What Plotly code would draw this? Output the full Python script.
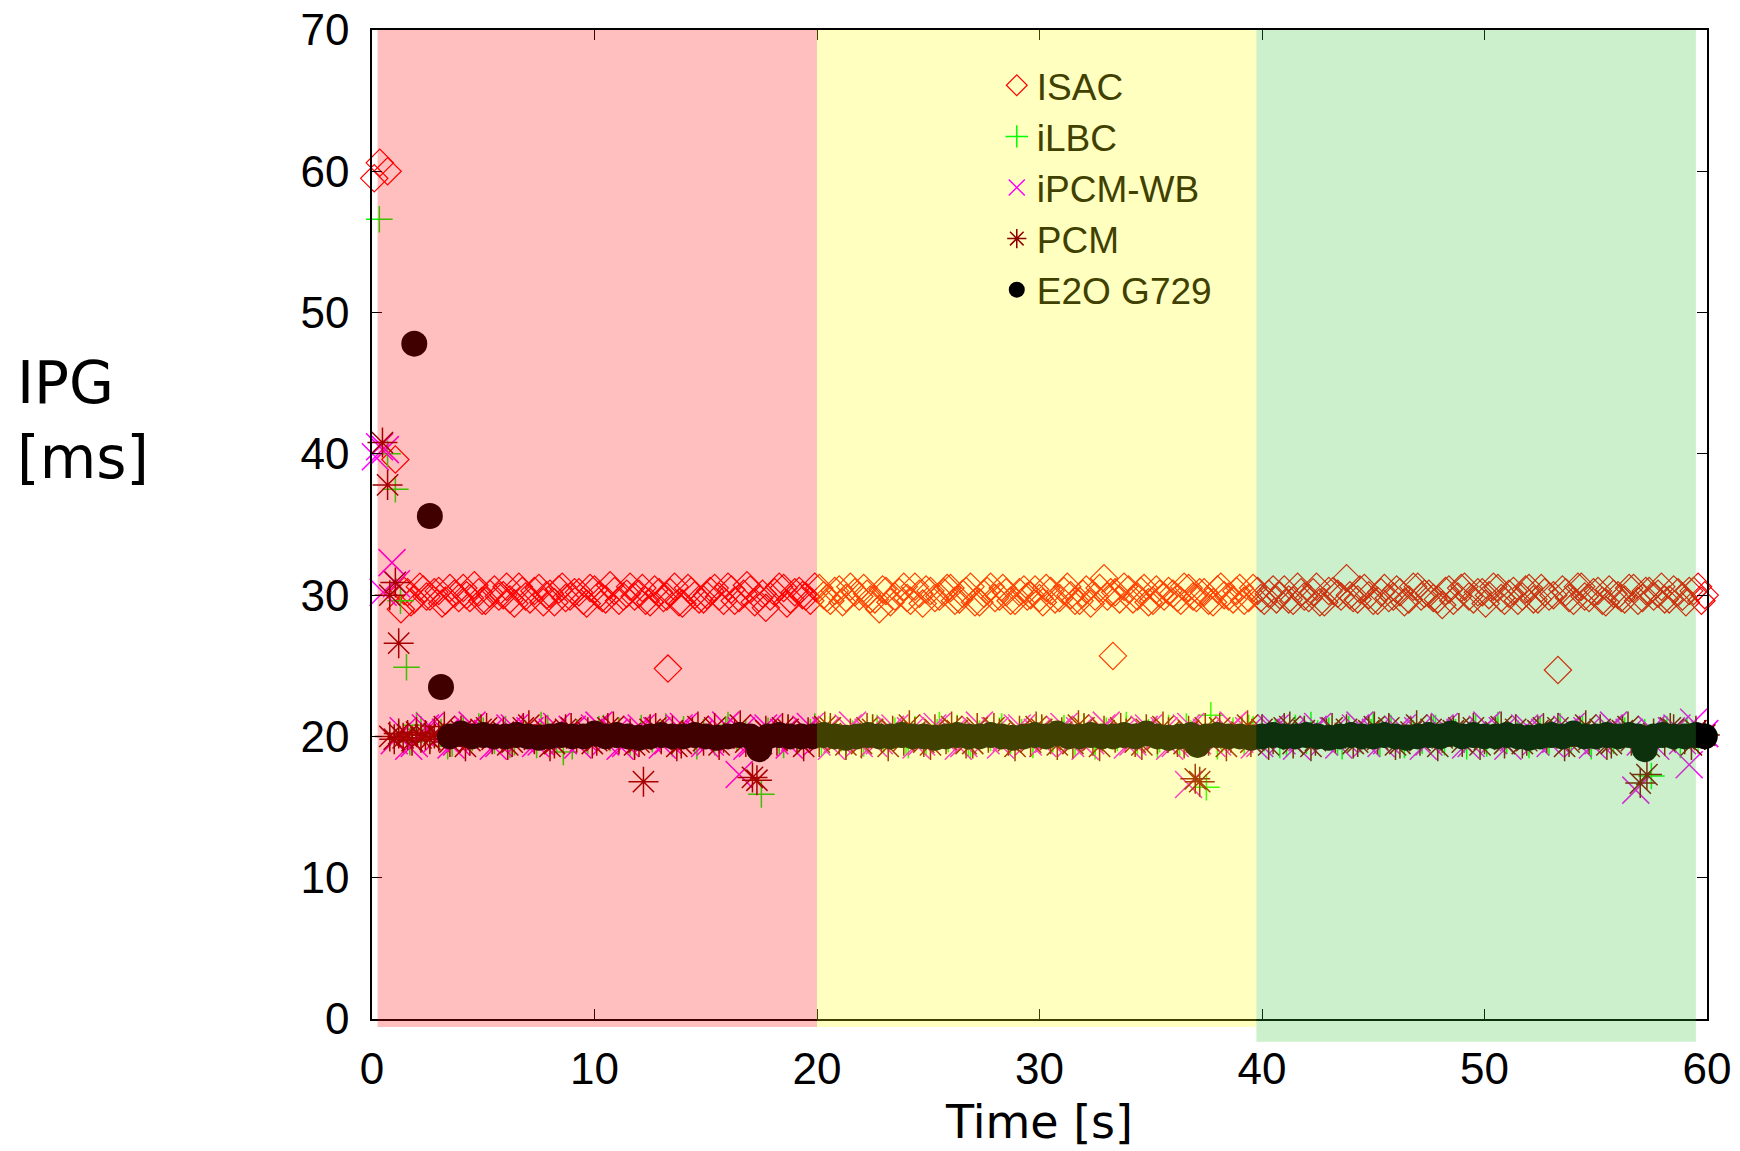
import plotly.graph_objects as go

# ---------------- data ----------------
ISAC_TIME = [
    0.1, 0.35, 0.7, 1.05,
    1.3, 1.6, 1.9, 2.3, 2.6, 3.0, 3.3, 3.7, 4.1, 4.4,
    4.8, 5.1, 5.5, 5.9, 6.2, 6.6, 6.9, 7.3, 7.7, 8.0,
    8.4, 8.7, 9.1, 9.5, 9.8, 10.2, 10.5, 10.9, 11.3, 11.6,
    12.0, 12.3, 12.7, 13.1, 13.3, 13.4, 13.8, 14.2, 14.5, 14.9,
    15.2, 15.6, 16.0, 16.3, 16.7, 17.0, 17.4, 17.7, 18.1, 18.5,
    18.8, 19.2, 19.5, 19.9, 20.3, 20.6, 21.0, 21.3, 21.7, 22.1,
    22.4, 22.8, 23.1, 23.5, 23.9, 24.2, 24.6, 24.9, 25.3, 25.7,
    26.0, 26.4, 26.7, 27.1, 27.5, 27.8, 28.2, 28.5, 28.9, 29.3,
    29.6, 30.0, 30.3, 30.7, 31.1, 31.4, 31.8, 32.1, 32.5, 32.9,
    33.2, 33.3, 33.6, 34.0, 34.4, 34.7, 35.1, 35.4, 35.8, 36.2,
    36.5, 36.9, 37.2, 37.6, 38.0, 38.3, 38.7, 39.0, 39.4, 39.8,
    40.1, 40.5, 40.8, 41.2, 41.6, 41.9, 42.3, 42.6, 43.0, 43.4,
    43.8, 44.1, 44.4, 44.8, 45.2, 45.5, 45.9, 46.2, 46.6, 47.0,
    47.3, 47.7, 48.1, 48.4, 48.8, 49.1, 49.5, 49.9, 50.2, 50.6,
    50.9, 51.3, 51.7, 52.0, 52.4, 52.7, 53.1, 53.3, 53.5, 53.8,
    54.2, 54.5, 54.9, 55.3, 55.6, 56.0, 56.3, 56.7, 57.1, 57.4,
    57.8, 58.1, 58.5, 58.9, 59.2, 59.6, 59.9,
    1.45, 1.75, 2.15, 2.45, 2.8, 3.15, 3.5, 3.9, 4.25, 4.6,
    4.95, 5.3, 5.7, 6.05, 6.4, 6.75, 7.1, 7.5, 7.85, 8.2,
    8.55, 8.9, 9.3, 9.65, 10.0, 10.35, 10.7, 11.1, 11.45, 11.8,
    12.15, 12.5, 12.9, 13.25, 13.6, 13.95, 14.35, 14.7, 15.05, 15.4,
    15.8, 16.15, 16.5, 16.85, 17.2, 17.55, 17.9, 18.3, 18.65, 19.0,
    19.35, 19.7, 20.1, 20.45, 20.8, 21.15, 21.5, 21.9, 22.25, 22.6,
    22.95, 23.3, 23.7, 24.05, 24.4, 24.75, 25.1, 25.5, 25.85, 26.2,
    26.55, 26.9, 27.3, 27.65, 28.0, 28.35, 28.7, 29.1, 29.45, 29.8,
    30.15, 30.5, 30.9, 31.25, 31.6, 31.95, 32.3, 32.7, 33.05, 33.4,
    33.8, 34.2, 34.55, 34.9, 35.25, 35.6, 36.0, 36.35, 36.7, 37.05,
    37.4, 37.8, 38.15, 38.5, 38.85, 39.2, 39.6, 39.95, 40.3, 40.65,
    41.0, 41.4, 41.75, 42.1, 42.45, 42.8, 43.2, 43.55, 43.95, 44.3,
    44.6, 45.0, 45.35, 45.7, 46.05, 46.4, 46.8, 47.15, 47.5, 47.9,
    48.25, 48.6, 48.95, 49.3, 49.7, 50.05, 50.4, 50.75, 51.1, 51.5,
    51.85, 52.2, 52.55, 52.9, 53.65, 54.0, 54.35, 54.7, 55.1, 55.45,
    55.8, 56.15, 56.5, 56.9, 57.25, 57.6, 57.95, 58.3, 58.7, 59.05,
    59.4, 59.75,
]
ISAC_IPG = [
    59.5, 60.6, 60.0, 39.6,
    29.0, 30.2, 29.7, 30.4, 29.9, 30.3, 29.6, 30.1, 30.5, 29.8,
    30.2, 29.6, 30.4, 30.0, 29.7, 30.6, 29.9, 30.3, 29.5, 30.1,
    30.4, 29.8, 30.2, 29.6, 30.5, 30.0, 29.7, 30.3, 29.9, 30.6,
    30.1, 29.6, 30.4, 29.8, 24.8, 30.2, 29.5, 30.5, 30.0, 29.7,
    30.3, 29.9, 30.6, 29.6, 30.1, 30.4, 29.8, 29.1, 30.2, 30.5,
    29.7, 30.3, 29.9, 30.6, 30.0, 29.6, 30.4, 29.8, 30.2, 30.5,
    29.7, 29.0, 30.3, 29.9, 30.6, 29.6, 30.1, 30.4, 29.8, 30.2,
    30.5, 29.7, 30.3, 29.5, 30.1, 30.6, 29.9, 30.2, 29.6, 30.4,
    30.0, 29.8, 30.5, 29.7, 30.3, 30.0, 29.6, 30.4, 29.9, 31.2,
    30.2, 25.7, 29.7, 30.4, 29.9, 30.5, 29.6, 30.1, 30.3, 29.8,
    30.6, 29.9, 30.2, 29.6, 30.4, 30.0, 29.7, 30.5, 29.8, 30.3,
    29.6, 30.4, 30.0, 29.7, 30.6, 29.9, 30.2, 29.5, 30.3, 30.1,
    31.2, 29.8, 30.4, 30.0, 29.6, 30.5, 29.9, 30.2, 29.7, 30.6,
    30.1, 29.8, 29.3, 30.4, 29.9, 30.6, 29.7, 30.2, 30.0, 30.5,
    29.6, 30.3, 29.9, 30.5, 29.7, 30.2, 30.0, 24.7, 30.4, 29.8,
    30.6, 29.9, 30.2, 29.6, 30.4, 30.0, 29.7, 30.5, 29.8, 30.3,
    30.1, 29.7, 30.4, 29.9, 30.3, 30.6, 30.0,
    30.3, 29.5, 30.6, 29.9, 30.2, 29.4, 30.5, 29.8, 30.0, 30.7,
    29.6, 30.1, 29.9, 30.6, 29.4, 30.3, 29.7, 30.5, 30.0, 29.5,
    30.6, 29.9, 30.2, 29.4, 30.4, 29.8, 30.7, 29.6, 30.1, 29.9,
    30.5, 29.5, 30.2, 29.9, 30.6, 29.4, 30.3, 29.7, 30.0, 30.5,
    29.6, 30.4, 29.8, 30.7, 29.5, 30.1, 29.9, 30.6, 29.4, 30.2,
    30.0, 29.6, 30.5, 29.8, 30.3, 29.5, 30.6, 29.9, 30.1, 29.7,
    30.4, 29.5, 30.2, 29.8, 30.6, 29.4, 30.3, 29.9, 30.5, 29.6,
    30.1, 30.6, 29.5, 30.3, 29.8, 30.5, 29.6, 30.2, 29.9, 30.4,
    29.5, 30.3, 29.8, 30.6, 29.6, 30.1, 29.4, 30.5, 29.9, 30.2,
    30.6, 29.7, 30.3, 29.5, 30.4, 29.9, 30.1, 29.6, 30.5, 29.8,
    30.2, 29.5, 30.6, 29.9, 30.3, 29.6, 30.5, 29.8, 30.1, 29.7,
    30.4, 29.6, 30.2, 29.8, 30.6, 29.5, 30.3, 29.9, 30.0, 29.7,
    30.5, 29.6, 30.2, 29.8, 30.4, 29.5, 30.6, 29.9, 30.1, 29.7,
    30.3, 29.6, 30.5, 29.9, 30.2, 29.4, 30.6, 29.8, 30.1, 29.6,
    30.4, 29.7, 30.5, 29.9, 30.2, 29.6, 30.6, 29.8, 30.3, 29.5,
    30.1, 29.8, 30.5, 29.6, 30.3, 29.9, 30.6, 29.7, 30.2, 29.5,
    30.3, 29.6,
]

ILBC_TIME = [
    0.33, 0.7, 1.05, 1.28, 1.55,
    1.2, 1.7, 2.2, 2.6, 3.1, 3.6, 4.1, 4.5, 5.0, 5.5,
    6.0, 6.4, 6.9, 7.4, 7.9, 8.3, 8.6, 9.2, 9.7, 10.2,
    10.7, 11.1, 11.6, 12.1, 12.6, 13.0, 13.5, 14.0, 14.5, 14.9,
    15.4, 15.9, 16.4, 16.8, 17.3, 17.5, 17.8, 18.3, 18.7, 19.2,
    19.7, 20.2, 20.6, 21.1, 21.6, 22.1, 22.5, 23.0, 23.5, 24.0,
    24.4, 24.9, 25.4, 25.9, 26.3, 26.8, 27.3, 27.8, 28.2, 28.7,
    29.2, 29.7, 30.1, 30.6, 31.1, 31.6, 32.0, 32.5, 33.0, 33.5,
    33.9, 34.4, 34.9, 35.4, 35.8, 36.3, 36.8, 37.3, 37.5, 37.7,
    38.2, 38.7, 39.2, 39.6, 40.1, 40.6, 41.1, 41.5, 42.0, 42.5,
    43.0, 43.4, 43.9, 44.4, 44.9, 45.3, 45.8, 46.3, 46.8, 47.2,
    47.7, 48.2, 48.7, 49.1, 49.6, 50.1, 50.6, 51.0, 51.5, 52.0,
    52.5, 52.9, 53.4, 53.9, 54.4, 54.8, 55.3, 55.8, 56.3, 56.7,
    57.2, 57.5, 57.7, 58.2, 58.6, 59.1, 59.6, 59.9,
    2.0, 3.4, 4.8, 6.2, 7.6, 9.0, 10.4, 11.8, 13.2, 14.6,
    16.0, 18.5, 19.9, 21.3, 22.7, 24.1, 25.5, 26.9, 28.3, 29.7,
    31.1, 32.5, 33.9, 35.3, 36.6, 38.0, 39.4, 40.8, 42.2, 43.6,
    45.0, 46.4, 47.8, 49.2, 50.6, 52.0, 53.4, 54.8, 56.2, 58.8,
]
ILBC_IPG = [
    56.6, 40.0, 37.5, 29.6, 24.9,
    20.2, 19.6, 20.5, 19.8, 20.3, 19.5, 20.6, 19.9, 20.4, 19.7,
    20.5, 19.6, 20.2, 19.4, 20.6, 19.8, 18.9, 20.3, 19.7, 20.5,
    19.9, 20.4, 19.6, 20.6, 19.8, 20.2, 19.5, 20.5, 19.7, 20.3,
    19.6, 20.5, 19.9, 20.3, 19.5, 15.9, 20.4, 19.7, 20.6, 19.8,
    20.3, 19.6, 20.5, 19.9, 20.2, 19.5, 20.6, 19.8, 20.4, 19.7,
    20.5, 19.6, 20.3, 19.8, 20.6, 19.5, 20.2, 19.9, 20.4, 19.7,
    20.3, 19.6, 20.5, 19.8, 20.2, 19.5, 20.6, 19.7, 20.4, 19.9,
    20.5, 19.6, 20.3, 19.8, 20.6, 19.5, 20.2, 19.7, 16.4, 21.5,
    19.8, 20.4, 19.6, 20.5, 19.9, 20.3, 19.5, 20.6, 19.7, 20.2,
    20.4, 19.6, 20.5, 19.8, 20.3, 19.5, 20.6, 19.9, 20.2, 19.7,
    20.5, 19.6, 20.3, 19.8, 20.6, 19.5, 20.4, 19.7, 20.2, 19.9,
    20.5, 19.6, 20.3, 19.8, 20.6, 19.5, 20.2, 19.7, 20.4, 19.9,
    20.3, 17.2, 19.6, 20.5, 19.8, 20.4, 19.7, 20.2,
    20.8, 19.3, 20.7, 19.4, 20.8, 19.3, 20.6, 19.4, 20.7, 19.3,
    20.8, 19.4, 20.7, 19.3, 20.6, 19.4, 20.8, 19.3, 20.7, 19.4,
    20.6, 19.3, 20.8, 19.4, 20.7, 19.3, 20.6, 19.4, 20.8, 19.3,
    20.7, 19.4, 20.6, 19.3, 20.8, 19.4, 20.7, 19.3, 20.6, 19.4,
]

IPCM_TIME = [
    0.15, 0.34, 0.6, 0.5, 0.9, 1.1,
    1.0, 1.4, 1.9, 2.4, 2.9, 3.3, 3.8, 4.3, 4.8, 5.2,
    5.7, 6.2, 6.7, 7.1, 7.6, 8.1, 8.6, 9.0, 9.5, 10.0,
    10.5, 10.9, 11.4, 11.9, 12.4, 12.8, 13.3, 13.8, 14.3, 14.7,
    15.2, 15.7, 16.2, 16.5, 16.6, 17.1, 17.6, 18.1, 18.5, 19.0,
    19.5, 20.0, 20.4, 20.9, 21.4, 21.9, 22.3, 22.8, 23.3, 23.8,
    24.2, 24.7, 25.2, 25.7, 26.1, 26.6, 27.1, 27.6, 28.0, 28.5,
    29.0, 29.5, 29.9, 30.4, 30.9, 31.4, 31.8, 32.3, 32.8, 33.3,
    33.7, 34.2, 34.7, 35.2, 35.6, 36.1, 36.6, 36.7, 37.1, 37.5,
    38.0, 38.5, 39.0, 39.4, 39.9, 40.4, 40.9, 41.3, 41.8, 42.3,
    42.8, 43.2, 43.7, 44.2, 44.7, 45.1, 45.6, 46.1, 46.6, 47.0,
    47.5, 48.0, 48.5, 48.9, 49.4, 49.9, 50.4, 50.8, 51.3, 51.8,
    52.3, 52.7, 53.2, 53.7, 54.2, 54.6, 55.1, 55.6, 56.1, 56.5,
    56.8, 57.0, 57.5, 58.0, 58.4, 58.9, 59.2, 59.4, 59.9,
    1.65, 2.6, 3.55, 4.5, 5.45, 6.4, 7.35, 8.3, 9.25, 10.2,
    11.15, 12.1, 13.05, 14.0, 14.95, 15.9, 16.85, 17.8, 18.75, 19.7,
    20.65, 21.6, 22.55, 23.5, 24.45, 25.4, 26.35, 27.3, 28.25, 29.2,
    30.15, 31.1, 32.05, 33.0, 33.95, 34.9, 35.85, 36.8, 37.75, 38.7,
    39.65, 40.6, 41.55, 42.5, 43.45, 44.4, 45.35, 46.3, 47.25, 48.2,
    49.15, 50.1, 51.05, 52.0, 52.95, 53.9, 54.85, 55.8, 57.7, 58.65,
]
IPCM_IPG = [
    39.8, 40.5, 40.3, 30.2, 32.3, 30.8,
    19.7, 20.4, 19.5, 20.6, 19.8, 20.3, 19.6, 20.5, 19.9, 20.2,
    19.5, 20.6, 19.8, 20.4, 19.6, 20.3, 19.7, 20.5, 19.9, 20.6,
    19.6, 20.3, 19.5, 20.5, 19.8, 20.4, 19.7, 20.6, 19.9, 20.2,
    19.6, 20.5, 19.8, 17.3, 20.4, 19.5, 20.6, 19.7, 20.3, 19.9,
    20.5, 19.6, 20.4, 19.8, 20.6, 19.5, 20.3, 19.7, 20.5, 19.9,
    20.4, 19.6, 20.6, 19.8, 20.3, 19.5, 20.5, 19.7, 20.4, 19.9,
    20.6, 19.6, 20.3, 19.8, 20.5, 19.5, 20.4, 19.7, 20.6, 19.9,
    20.3, 19.6, 20.5, 19.8, 20.4, 19.5, 20.6, 16.6, 19.7, 20.3,
    19.6, 20.5, 19.8, 20.4, 19.5, 20.6, 19.7, 20.3, 19.9, 20.5,
    19.6, 20.4, 19.8, 20.6, 19.5, 20.3, 19.7, 20.5, 19.9, 20.4,
    19.6, 20.6, 19.8, 20.3, 19.5, 20.5, 19.7, 20.4, 19.9, 20.6,
    19.6, 20.3, 19.8, 20.5, 19.5, 20.4, 19.7, 20.6, 19.9, 20.3,
    16.2, 19.6, 20.5, 19.8, 20.4, 19.7, 18.0, 21.0, 20.2,
    19.3, 20.7, 19.4, 20.8, 19.3, 20.6, 19.5, 20.7, 19.4, 20.8,
    19.3, 20.6, 19.4, 20.7, 19.5, 20.8, 19.3, 20.6, 19.4, 20.7,
    19.3, 20.8, 19.5, 20.6, 19.4, 20.7, 19.3, 20.8, 19.4, 20.6,
    19.5, 20.7, 19.3, 20.8, 19.4, 20.6, 19.3, 20.7, 19.5, 20.8,
    19.4, 20.6, 19.3, 20.7, 19.4, 20.8, 19.5, 20.6, 19.3, 20.7,
    19.4, 20.8, 19.3, 20.6, 19.5, 20.7, 19.4, 20.8, 19.3, 20.6,
]

PCM_TIME = [
    0.47, 0.7, 0.8, 1.05, 1.2,
    0.8, 1.0, 1.2, 1.4, 1.6, 1.8, 2.0, 2.2, 2.4, 2.6,
    2.8, 3.0, 3.5, 4.0, 4.4, 4.9, 5.4, 5.9, 6.3, 6.8,
    7.3, 7.8, 8.2, 8.7, 9.2, 9.7, 10.1, 10.6, 11.1, 11.6,
    12.0, 12.2, 12.5, 13.0, 13.5, 13.9, 14.4, 14.9, 15.4, 15.8,
    16.3, 16.8, 17.1, 17.3, 17.7, 18.2, 18.7, 19.1, 19.6, 20.1,
    20.6, 21.0, 21.5, 22.0, 22.5, 22.9, 23.4, 23.9, 24.4, 24.8,
    25.3, 25.8, 26.3, 26.7, 27.2, 27.7, 28.2, 28.6, 29.1, 29.6,
    30.1, 30.5, 31.0, 31.5, 32.0, 32.4, 32.9, 33.4, 33.9, 34.3,
    34.8, 35.3, 35.8, 36.2, 36.7, 37.0, 37.2, 37.6, 38.1, 38.6,
    39.1, 39.5, 40.0, 40.5, 41.0, 41.4, 41.9, 42.4, 42.9, 43.3,
    43.8, 44.3, 44.8, 45.2, 45.7, 46.2, 46.7, 47.1, 47.6, 48.1,
    48.6, 49.0, 49.5, 50.0, 50.5, 50.9, 51.4, 51.9, 52.4, 52.8,
    53.3, 53.8, 54.3, 54.7, 55.2, 55.7, 56.2, 56.6, 57.0, 57.3,
    57.6, 58.1, 58.5, 59.0, 59.5, 59.9,
    3.25, 4.2, 5.15, 6.1, 7.05, 8.0, 8.95, 9.9, 10.85, 11.8,
    12.75, 13.7, 14.65, 15.6, 16.55, 17.5, 18.45, 19.4, 20.35, 21.3,
    22.25, 23.2, 24.15, 25.1, 26.05, 27.0, 27.95, 28.9, 29.85, 30.8,
    31.75, 32.7, 33.65, 34.6, 35.55, 36.5, 37.45, 38.4, 39.35, 40.3,
    41.25, 42.2, 43.15, 44.1, 45.05, 46.0, 46.95, 47.9, 48.85, 49.8,
    50.75, 51.7, 52.65, 53.6, 54.55, 55.5, 56.45, 57.4, 58.35, 59.3,
]
PCM_IPG = [
    40.8, 37.8, 30.0, 30.9, 26.6,
    20.0, 19.8, 20.2, 19.9, 20.1, 19.7, 20.3, 19.9, 20.1, 19.8,
    20.2, 20.0, 19.6, 20.4, 19.7, 20.5, 19.8, 20.3, 19.6, 20.6,
    19.8, 20.4, 19.5, 20.5, 19.9, 20.3, 19.7, 20.6, 19.8, 20.2,
    19.6, 16.8, 20.5, 19.8, 20.4, 19.5, 20.3, 19.7, 20.6, 19.9,
    20.2, 19.6, 17.1, 16.9, 20.4, 19.7, 20.5, 19.8, 20.3, 19.6,
    20.6, 19.8, 20.2, 19.5, 20.5, 19.9, 20.4, 19.7, 20.3, 19.6,
    20.5, 19.8, 20.4, 19.5, 20.6, 19.9, 20.2, 19.7, 20.4, 19.6,
    20.5, 19.8, 20.3, 19.5, 20.6, 19.7, 20.4, 19.9, 20.2, 19.6,
    20.5, 19.8, 20.3, 19.6, 20.4, 17.0, 16.8, 19.7, 20.6, 19.9,
    20.3, 19.6, 20.5, 19.8, 20.6, 19.5, 20.4, 19.7, 20.2, 19.9,
    20.5, 19.6, 20.4, 19.8, 20.6, 19.5, 20.3, 19.7, 20.5, 19.9,
    20.4, 19.6, 20.6, 19.8, 20.3, 19.5, 20.5, 19.7, 20.4, 19.9,
    20.6, 19.6, 20.3, 19.8, 20.5, 19.5, 20.4, 19.7, 16.7, 17.3,
    20.2, 19.7, 20.5, 19.8, 20.4, 20.1,
    20.7, 19.3, 20.6, 19.4, 20.8, 19.3, 20.6, 19.5, 20.7, 19.4,
    20.6, 19.3, 20.7, 19.4, 20.8, 19.5, 20.6, 19.3, 20.7, 19.4,
    20.6, 19.3, 20.8, 19.4, 20.7, 19.5, 20.6, 19.3, 20.7, 19.4,
    20.8, 19.3, 20.6, 19.4, 20.7, 19.5, 20.6, 19.3, 20.8, 19.4,
    20.7, 19.3, 20.6, 19.5, 20.7, 19.4, 20.8, 19.3, 20.6, 19.4,
    20.7, 19.5, 20.6, 19.3, 20.8, 19.4, 20.7, 19.3, 20.6, 19.4,
]

E2O_TIME = [
    1.9, 2.6, 3.1,
    3.5, 4.0, 4.5, 5.0, 5.5, 6.0, 6.5, 7.0, 7.5, 8.0,
    8.5, 9.0, 9.5, 10.0, 10.5, 11.0, 11.5, 12.0, 12.5, 13.0,
    13.5, 14.0, 14.5, 15.0, 15.5, 16.0, 16.5, 17.0, 17.4, 17.8,
    18.3, 18.8, 19.3, 19.8, 20.3, 20.8, 21.3, 21.8, 22.3, 22.8,
    23.3, 23.8, 24.3, 24.8, 25.3, 25.8, 26.3, 26.8, 27.3, 27.8,
    28.3, 28.8, 29.3, 29.8, 30.3, 30.8, 31.3, 31.8, 32.3, 32.8,
    33.3, 33.8, 34.3, 34.8, 35.3, 35.8, 36.3, 36.8, 37.1, 37.5,
    38.0, 38.5, 39.0, 39.5, 40.0, 40.5, 41.0, 41.5, 42.0, 42.5,
    43.0, 43.5, 44.0, 44.5, 45.0, 45.5, 46.0, 46.5, 47.0, 47.5,
    48.0, 48.5, 49.0, 49.5, 50.0, 50.5, 51.0, 51.5, 52.0, 52.5,
    53.0, 53.5, 54.0, 54.5, 55.0, 55.5, 56.0, 56.5, 56.9, 57.2,
    57.6, 58.0, 58.5, 59.0, 59.5, 59.9,
]
E2O_IPG = [
    47.8, 35.6, 23.5,
    20.0, 20.2, 20.0, 20.1, 20.0, 20.0, 20.1, 20.0, 19.9, 20.0,
    20.1, 20.0, 20.0, 20.2, 20.0, 20.1, 20.0, 19.9, 20.0, 20.1,
    20.0, 20.0, 20.1, 20.0, 19.9, 20.0, 20.1, 20.0, 19.1, 20.0,
    20.1, 20.0, 20.0, 20.0, 20.1, 20.0, 19.9, 20.0, 20.1, 20.0,
    20.0, 20.1, 20.0, 20.0, 19.9, 20.0, 20.1, 20.0, 20.0, 20.1,
    20.0, 19.9, 20.0, 20.1, 20.0, 20.2, 20.0, 20.0, 20.1, 20.0,
    20.0, 20.1, 20.0, 20.2, 20.0, 19.9, 20.0, 20.1, 19.4, 20.0,
    20.1, 20.0, 20.0, 19.9, 20.0, 20.1, 20.0, 20.0, 20.1, 20.0,
    19.9, 20.0, 20.1, 20.0, 20.0, 20.1, 20.0, 19.9, 20.0, 20.1,
    20.0, 20.2, 20.0, 20.1, 20.0, 20.0, 20.1, 20.0, 19.9, 20.0,
    20.1, 20.0, 20.2, 20.0, 20.0, 20.1, 20.0, 20.1, 20.0, 19.1,
    20.0, 20.1, 20.0, 20.0, 20.1, 20.0,
]

SERIES_NAMES = ["ISAC", "iLBC", "iPCM-WB", "PCM", "E2O G729"]
X_TICKS = [0, 10, 20, 30, 40, 50, 60]
Y_TICKS = [0, 10, 20, 30, 40, 50, 60, 70]

# shaded time phases (seconds)
PHASE_START = [0.25, 20.0, 39.75]
PHASE_END = [20.0, 39.75, 59.5]
PHASE_COLOR = ["rgba(255,0,0,0.25)", "rgba(255,255,0,0.25)", "rgba(51,195,51,0.25)"]
PHASE_BOTTOM = [-0.008, -0.008, -0.023]   # paper units (slightly below the axis)

# ---------------- figure ----------------
series = [
    (ISAC_TIME, ISAC_IPG, "diamond-open", 21, "#ff0000", 1.2),
    (ILBC_TIME, ILBC_IPG, "cross-thin-open", 19, "#00ff00", 1.5),
    (IPCM_TIME, IPCM_IPG, "x-thin-open", 27, "#ff00ff", 1.5),
    (PCM_TIME, PCM_IPG, "asterisk-open", 25, "#8b0000", 1.5),
    (E2O_TIME, E2O_IPG, "circle", 26, "#000000", 0),
]

fig = go.Figure()
for name, (tx, ty, sym, size, col, lw) in zip(SERIES_NAMES, series):
    fig.add_trace(go.Scatter(
        x=tx, y=ty, mode="markers", name=name, cliponaxis=False,
        marker=dict(symbol=sym, size=size, color=col,
                    line=dict(color=col, width=lw)),
    ))

for x0, x1, c, yb in zip(PHASE_START, PHASE_END, PHASE_COLOR, PHASE_BOTTOM):
    fig.add_shape(type="rect", xref="x", yref="paper", x0=x0, x1=x1, y0=yb, y1=1,
                  fillcolor=c, line=dict(width=0), layer="above")

axis_common = dict(
    showgrid=False, zeroline=False, showline=True, linecolor="black", linewidth=1.5,
    mirror="ticks", ticks="inside", ticklen=10, tickwidth=1, tickcolor="black",
    tickfont=dict(family="Liberation Sans, Arial, sans-serif", size=44, color="black"),
)
fig.update_xaxes(range=[0, 60], tickvals=X_TICKS, ticklabelstandoff=10,
                 title=dict(text="Time [s]", standoff=14,
                            font=dict(family="DejaVu Sans, sans-serif", size=46, color="black")),
                 **axis_common)
fig.update_yaxes(range=[0, 70], tickvals=Y_TICKS, ticklabelstandoff=12, **axis_common)

fig.add_annotation(
    text="IPG<br>[ms]", xref="paper", yref="paper", x=-0.2674, y=0.605,
    xanchor="left", yanchor="middle", align="left", showarrow=False,
    font=dict(family="DejaVu Sans, sans-serif", size=58, color="black"),
)

fig.update_layout(
    width=1740, height=1151,
    margin=dict(l=372, r=33, t=30, b=132, autoexpand=False),
    paper_bgcolor="white", plot_bgcolor="white",
    showlegend=True,
    legend=dict(x=0.468, y=0.975, xanchor="left", yanchor="top",
                bgcolor="rgba(0,0,0,0)", borderwidth=0, itemsizing="trace",
                font=dict(family="Liberation Sans, Arial, sans-serif", size=37, color="#404000")),
)

fig.write_html("out.html")
